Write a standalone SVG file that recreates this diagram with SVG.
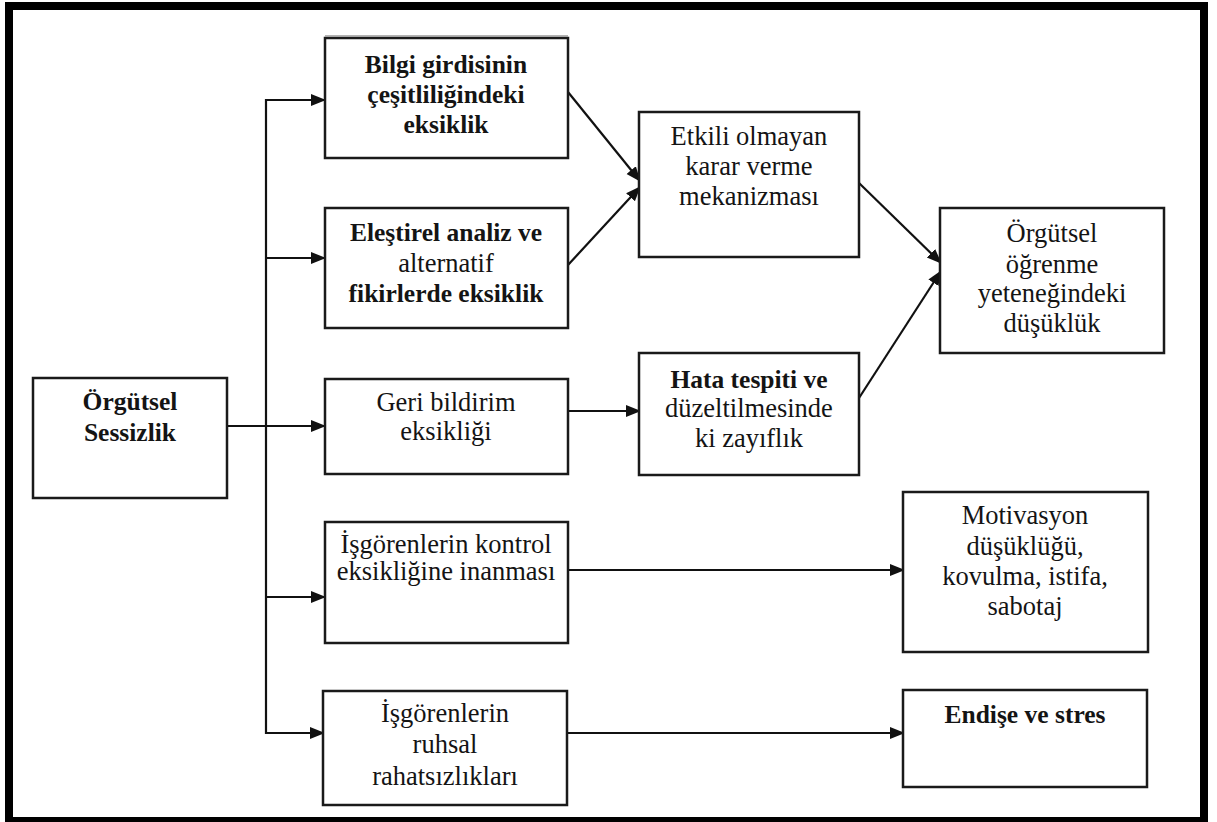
<svg xmlns="http://www.w3.org/2000/svg" width="1217" height="822" viewBox="0 0 1217 822">
  <style>
    .box { fill: #ffffff; stroke: #1a1a1a; stroke-width: 2.5; }
    .lbl { font-family: "Liberation Serif", "Times New Roman", serif; font-size: 26.5px; fill: #141414; text-anchor: middle; }
    .b { font-weight: bold; font-size: 25.5px; }
    .edge { fill: none; stroke: #111111; stroke-width: 2.2; }
  </style>
  <defs>
    <marker id="arrow" markerUnits="userSpaceOnUse" markerWidth="15" markerHeight="15" viewBox="0 0 15 15" refX="14" refY="7.5" orient="auto">
      <path d="M0,1.5 L15,7.5 L0,13.5 Z" fill="#111111"/>
    </marker>
  </defs>

  <!-- page background and heavy outer frame -->
  <rect x="0" y="0" width="1217" height="822" fill="#ffffff"/>
  <rect x="9" y="6" width="1195" height="815" fill="none" stroke="#000000" stroke-width="8"/>

  <!-- connectors -->
  <g id="connectors">
    <line class="edge" x1="227" y1="426" x2="325" y2="426" marker-end="url(#arrow)"/>
    <polyline class="edge" points="325,100 266,100 266,733 324,733" marker-end="url(#arrow)"/>
    <line class="edge" x1="266" y1="100" x2="325" y2="100" marker-end="url(#arrow)"/>
    <line class="edge" x1="266" y1="258" x2="325" y2="258" marker-end="url(#arrow)"/>
    <line class="edge" x1="266" y1="597" x2="325" y2="597" marker-end="url(#arrow)"/>
    <line class="edge" x1="568" y1="92" x2="640" y2="181" marker-end="url(#arrow)"/>
    <line class="edge" x1="568" y1="265" x2="640" y2="187" marker-end="url(#arrow)"/>
    <line class="edge" x1="568" y1="411" x2="640" y2="411" marker-end="url(#arrow)"/>
    <line class="edge" x1="859" y1="183" x2="941" y2="263" marker-end="url(#arrow)"/>
    <line class="edge" x1="859" y1="398" x2="941" y2="271" marker-end="url(#arrow)"/>
    <line class="edge" x1="568" y1="570" x2="904" y2="570" marker-end="url(#arrow)"/>
    <line class="edge" x1="567" y1="733" x2="904" y2="733" marker-end="url(#arrow)"/>
  </g>

  <g id="orgutsel-sessizlik">
    <rect class="box" x="33" y="378" width="194" height="120"/>
    <text class="lbl b" x="130" y="410">Örgütsel</text>
    <text class="lbl b" x="130" y="441">Sessizlik</text>
  </g>

  <g id="bilgi-girdisi">
    <rect class="box" x="325" y="38" width="243" height="120"/>
    <line x1="325" y1="36" x2="568" y2="36" stroke="#9a9a9a" stroke-width="1.5"/>
    <text class="lbl b" x="446" y="73">Bilgi girdisinin</text>
    <text class="lbl b" x="446" y="103">çeşitliliğindeki</text>
    <text class="lbl b" x="446" y="133">eksiklik</text>
  </g>

  <g id="elestirel-analiz">
    <rect class="box" x="325" y="208" width="243" height="120"/>
    <text class="lbl b" x="446" y="241">Eleştirel analiz ve</text>
    <text class="lbl" x="446" y="272">alternatif</text>
    <text class="lbl b" x="446" y="302">fikirlerde eksiklik</text>
  </g>

  <g id="geri-bildirim">
    <rect class="box" x="325" y="379" width="243" height="95"/>
    <text class="lbl" x="446" y="411">Geri bildirim</text>
    <text class="lbl" x="446" y="440">eksikliği</text>
  </g>

  <g id="kontrol-eksikligi">
    <rect class="box" x="325" y="522" width="243" height="121"/>
    <text class="lbl" x="446" y="553">İşgörenlerin kontrol</text>
    <text class="lbl" x="446" y="580">eksikliğine inanması</text>
  </g>

  <g id="ruhsal-rahatsizlik">
    <rect class="box" x="323" y="691" width="244" height="114"/>
    <text class="lbl" x="445" y="722">İşgörenlerin</text>
    <text class="lbl" x="445" y="753">ruhsal</text>
    <text class="lbl" x="445" y="785">rahatsızlıkları</text>
  </g>

  <g id="karar-verme">
    <rect class="box" x="639" y="112" width="220" height="145"/>
    <text class="lbl" x="749" y="145">Etkili olmayan</text>
    <text class="lbl" x="749" y="175">karar verme</text>
    <text class="lbl" x="749" y="205">mekanizması</text>
  </g>

  <g id="hata-tespiti">
    <rect class="box" x="639" y="353" width="220" height="122"/>
    <text class="lbl b" x="749" y="388">Hata tespiti ve</text>
    <text class="lbl" x="749" y="417">düzeltilmesinde</text>
    <text class="lbl" x="749" y="447">ki zayıflık</text>
  </g>

  <g id="orgutsel-ogrenme">
    <rect class="box" x="940" y="208" width="224" height="145"/>
    <text class="lbl" x="1052" y="242">Örgütsel</text>
    <text class="lbl" x="1052" y="273">öğrenme</text>
    <text class="lbl" x="1052" y="302">yeteneğindeki</text>
    <text class="lbl" x="1052" y="332">düşüklük</text>
  </g>

  <g id="motivasyon">
    <rect class="box" x="903" y="492" width="245" height="160"/>
    <text class="lbl" x="1025" y="524">Motivasyon</text>
    <text class="lbl" x="1025" y="555">düşüklüğü,</text>
    <text class="lbl" x="1025" y="585">kovulma, istifa,</text>
    <text class="lbl" x="1025" y="615">sabotaj</text>
  </g>

  <g id="endise-stres">
    <rect class="box" x="903" y="690" width="244" height="97"/>
    <text class="lbl b" x="1025" y="723">Endişe ve stres</text>
  </g>
</svg>
